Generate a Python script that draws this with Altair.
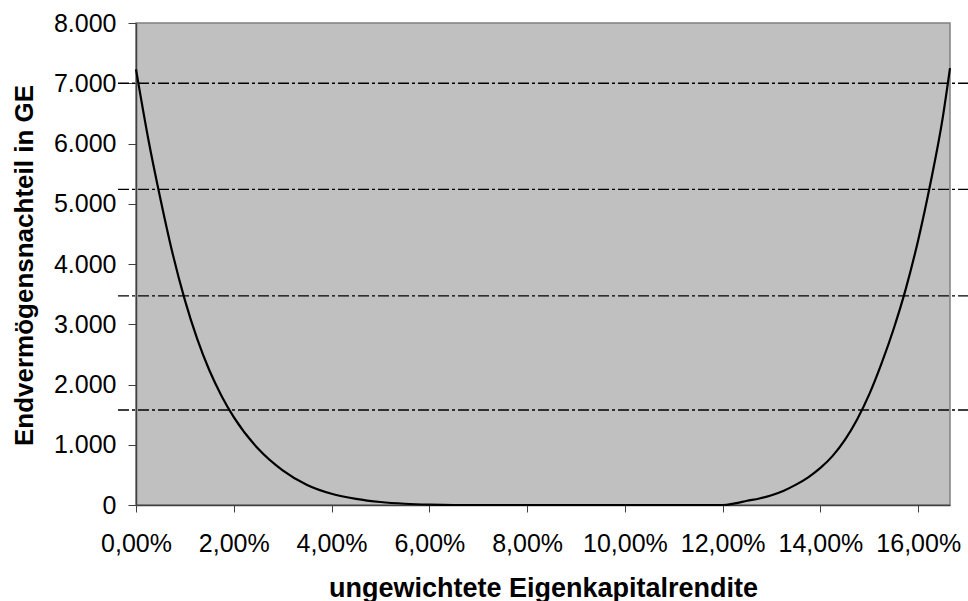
import altair as alt
import pandas as pd

# values
rendite = [0.00, 0.25, 0.50, 0.75, 1.00, 1.25, 1.50, 1.75, 2.00, 2.50, 3.00, 3.50,
           4.00, 4.50, 5.00, 5.50, 6.00, 6.50,
           12.00, 12.25, 12.50, 12.75, 13.00, 13.25, 13.50, 13.75, 14.00, 14.25,
           14.50, 14.75, 15.00, 15.25, 15.50, 15.75, 16.00, 16.25, 16.50, 16.65]
nachteil = [7230, 6080, 5080, 4170, 3400, 2760, 2236, 1811, 1458, 933, 575, 332,
            186, 102, 50, 21, 6, 0,
            0, 28, 70, 108, 163, 238, 338, 460, 615, 815,
            1080, 1420, 1840, 2350, 2930, 3600, 4400, 5340, 6420, 7250]
schwellen = [7000, 5240, 3470, 1577]
x_ticks = [0, 2, 4, 6, 8, 10, 12, 14, 16]
y_ticks = [0, 1000, 2000, 3000, 4000, 5000, 6000, 7000, 8000]

df = pd.DataFrame({"rendite": rendite, "wert": nachteil})
dfr = pd.DataFrame({"wert": schwellen})

W, H = 814, 482
FONT = "Liberation Sans"
AX = "#404040"

x_scale = alt.Scale(domain=[0, 16.65], nice=False, zero=False)
y_scale = alt.Scale(domain=[0, 8000], nice=False)

x_axis = alt.Axis(
    values=x_ticks,
    labelExpr="replace(format(datum.value, '.2f'), '.', ',') + '%'",
    title="ungewichtete Eigenkapitalrendite",
    grid=False, tickSize=7, labelPadding=19, labelBaseline="top",
    labelFontSize=25, labelFont=FONT, labelColor="black",
    labelFlush=False, labelOverlap=False,
    titleFontSize=27, titleFont=FONT, titleFontWeight="bold", titleColor="black",
    titleBaseline="alphabetic", titleY=91,
    domainColor=AX, tickColor=AX, domainWidth=1.5,
)
y_axis = alt.Axis(
    values=y_ticks,
    labelExpr="replace(format(datum.value, ',.0f'), ',', '.')",
    title="Endvermögensnachteil in GE",
    grid=False, tickSize=8, labelPadding=12,
    labelFontSize=25, labelFont=FONT, labelColor="black", labelOverlap=False,
    labelFlush=False,
    titleFontSize=26, titleFont=FONT, titleFontWeight="bold", titleColor="black",
    titleAngle=270, titleBaseline="alphabetic", titleAlign="center",
    titleX=-104, titleY=242,
    domainColor=AX, tickColor=AX, domainWidth=1.5,
)

line = alt.Chart(df).mark_line(
    color="black", strokeWidth=2.2, interpolate="monotone"
).encode(
    x=alt.X("rendite:Q", scale=x_scale, axis=x_axis),
    y=alt.Y("wert:Q", scale=y_scale, axis=y_axis),
)

rules = alt.Chart(dfr).mark_rule(
    color="black", strokeWidth=1.3, strokeDash=[11, 3, 3, 3]
).encode(
    y=alt.Y("wert:Q", scale=y_scale, axis=y_axis),
    x=alt.value(-18),
    x2=alt.value(W + 18),
)

chart = alt.layer(rules, line).properties(
    width=W, height=H,
    autosize=alt.AutoSizeParams(type="none"),
    padding={"left": 136, "top": 23, "right": 18, "bottom": 96},
    background="white",
).configure_view(
    fill="#C0C0C0", stroke="#808080", strokeWidth=1.5
)

chart.save("out.html", embed_options={"renderer": "svg", "actions": False})
